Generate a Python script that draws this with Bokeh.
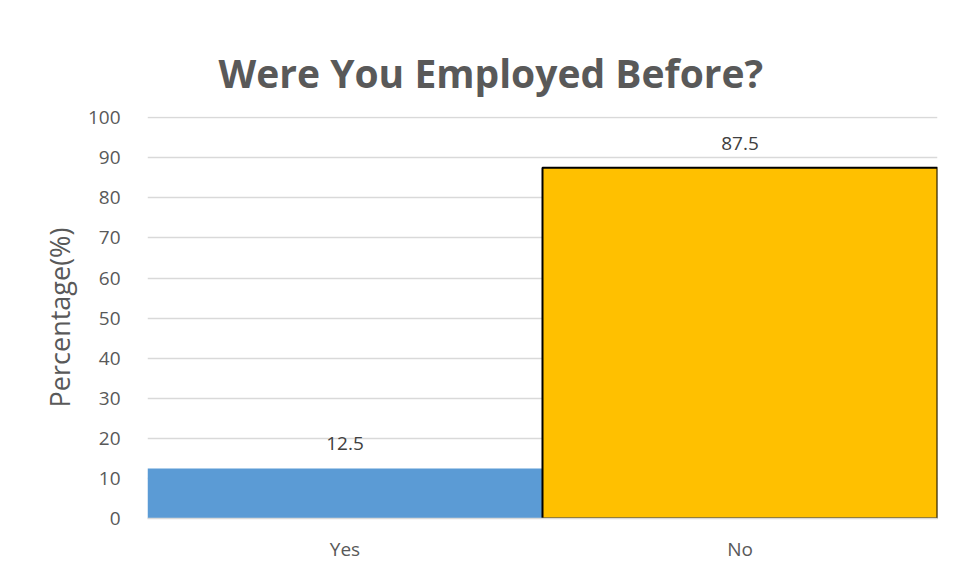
from bokeh.plotting import figure
from bokeh.models import ColumnDataSource, FactorRange, Range1d, LabelSet, Title
from bokeh.core.properties import value
from bokeh.embed import file_html
from bokeh.resources import INLINE

categories = ["Yes", "No"]
values = [12.5, 87.5]
colors = ["#5B9BD5", "#FFC000"]
outline_colors = ["#5B9BD5", "#000000"]
outline_widths = [0, 2]
labels = ["12.5", "87.5"]
y_ticks = [0, 10, 20, 30, 40, 50, 60, 70, 80, 90, 100]

FONT = "Open Sans"

source = ColumnDataSource(dict(cat=categories, val=values, color=colors,
                               lc=outline_colors, lw=outline_widths, lab=labels))

p = figure(x_range=FactorRange(*categories, range_padding=0), y_range=Range1d(0, 100.3),
           width=950, height=570, output_backend="svg", toolbar_location=None,
           min_border_left=147, min_border_right=13, min_border_top=116, min_border_bottom=52)

p.vbar(x="cat", top="val", width=1.0, source=source, fill_color="color",
       line_color="lc", line_width="lw")

p.add_layout(LabelSet(x="cat", y="val", text="lab", source=source, text_align="center",
                      text_baseline="alphabetic", y_offset=18, text_font=value(FONT),
                      text_font_size="19px", text_color="#404040"))

title = Title(text="Were You Employed Before?", align="left", text_font=FONT,
              text_font_size="39px", text_font_style="bold", text_color="#595959",
              offset=71, standoff=35)
p.add_layout(title, "above")
p.title.visible = False

p.outline_line_color = None
p.xgrid.grid_line_color = None
p.ygrid.grid_line_color = "#D9D9D9"
p.ygrid.grid_line_width = 1.5
p.yaxis.ticker = y_ticks
p.yaxis.axis_line_color = None
p.yaxis.major_tick_line_color = None
p.yaxis.minor_tick_line_color = None
p.yaxis.major_label_standoff = 21
p.yaxis.major_label_text_font = FONT
p.yaxis.major_label_text_font_size = "19px"
p.yaxis.major_label_text_color = "#595959"
p.yaxis.axis_label = "Percentage(%)"
p.yaxis.axis_label_text_font = FONT
p.yaxis.axis_label_text_font_size = "27px"
p.yaxis.axis_label_text_font_style = "normal"
p.yaxis.axis_label_text_color = "#595959"
p.yaxis.axis_label_standoff = 7

p.xaxis.axis_line_color = "#D9D9D9"
p.xaxis.axis_line_width = 1.5
p.xaxis.major_tick_line_color = None
p.xaxis.minor_tick_line_color = None
p.xaxis.major_label_standoff = 11
p.xaxis.major_label_text_font = FONT
p.xaxis.major_label_text_font_size = "19px"
p.xaxis.major_label_text_color = "#595959"

open("out.html", "w").write(file_html(p, INLINE))
